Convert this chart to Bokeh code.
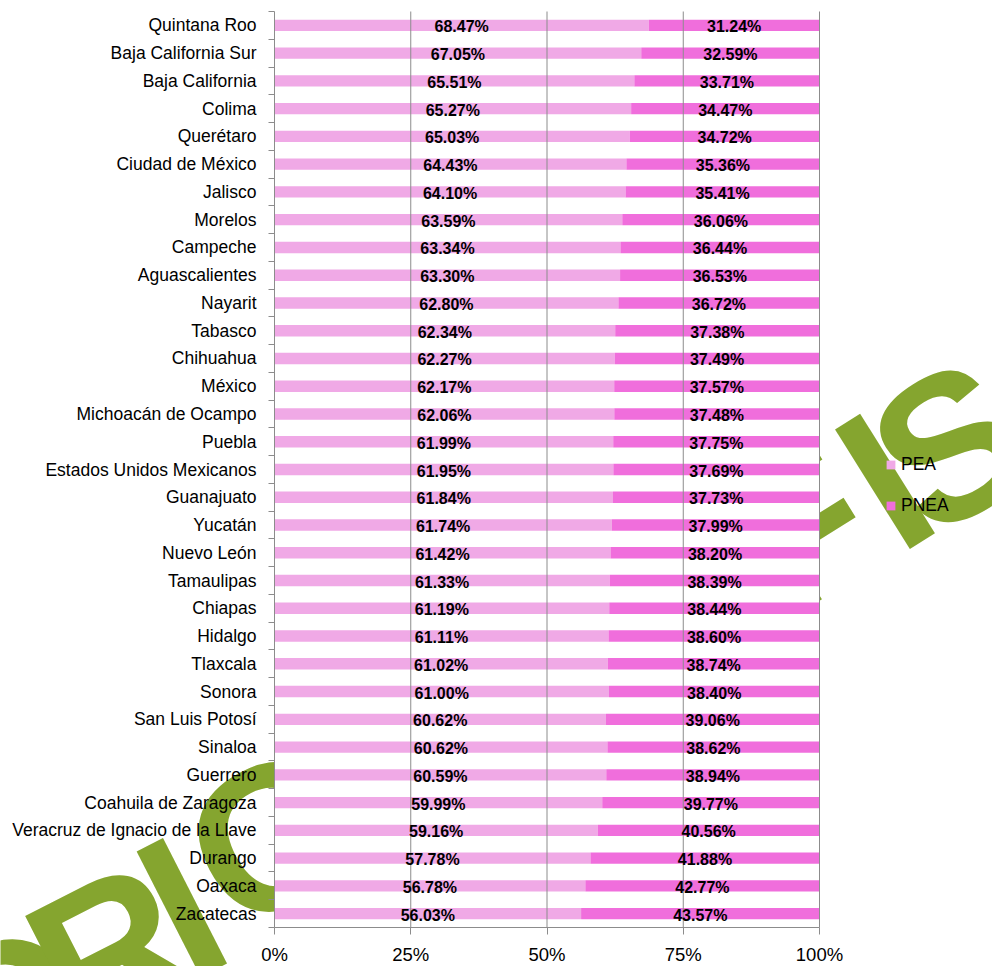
import math
from bokeh.plotting import figure
from bokeh.models import (Range1d, FixedTicker, ColumnDataSource, Legend, LegendItem)
from bokeh.core.properties import value
from bokeh.embed import file_html
from bokeh.resources import INLINE

# ---------------- data ----------------
states = ["Quintana Roo", "Baja California Sur", "Baja California", "Colima", "Querétaro",
          "Ciudad de México", "Jalisco", "Morelos", "Campeche", "Aguascalientes", "Nayarit",
          "Tabasco", "Chihuahua", "México", "Michoacán de Ocampo", "Puebla",
          "Estados Unidos Mexicanos", "Guanajuato", "Yucatán", "Nuevo León", "Tamaulipas",
          "Chiapas", "Hidalgo", "Tlaxcala", "Sonora", "San Luis Potosí", "Sinaloa", "Guerrero",
          "Coahuila de Zaragoza", "Veracruz de Ignacio de la Llave", "Durango", "Oaxaca",
          "Zacatecas"]
pea = [68.47, 67.05, 65.51, 65.27, 65.03, 64.43, 64.10, 63.59, 63.34, 63.30, 62.80, 62.34,
       62.27, 62.17, 62.06, 61.99, 61.95, 61.84, 61.74, 61.42, 61.33, 61.19, 61.11, 61.02,
       61.00, 60.62, 60.62, 60.59, 59.99, 59.16, 57.78, 56.78, 56.03]
pnea = [31.24, 32.59, 33.71, 34.47, 34.72, 35.36, 35.41, 36.06, 36.44, 36.53, 36.72, 37.38,
        37.49, 37.57, 37.48, 37.75, 37.69, 37.73, 37.99, 38.20, 38.39, 38.44, 38.60, 38.74,
        38.40, 39.06, 38.62, 38.94, 39.77, 40.56, 41.88, 42.77, 43.57]
series_names = ["PEA", "PNEA"]
x_ticks = [0, 25, 50, 75, 100]
x_tick_labels = ["0%", "25%", "50%", "75%", "100%"]

# ---------------- style / layout ----------------
PEA_COLOR = "#F0A9E6"
PNEA_COLOR = "#F06EDC"
GRID = "#8C8C8C"
GREEN = "#85A52F"
FONT = "Liberation Sans"
W, H = 992, 966                      # canvas
PL, PW, PT, PH = 274, 545, 11, 916   # plot area inside the canvas (px)

# watermark letters (decoration): letter, centre x/y in canvas px, rotation (deg)
WATERMARK = [("O", 8, 1012, 27), ("R", 110, 950, 27), ("I", 181, 906, 27),
             ("G", 272, 836, 28), ("F", 800, 528, 32), ("I", 884, 480, 32),
             ("S", 950, 445, 32)]
WM_SIZE = 205

n = len(states)
idx = list(range(n))
# 100% stacked: normalise each row
pea_share = [a / (a + b) * 100 for a, b in zip(pea, pnea)]

x_lo, x_hi = x_ticks[0], x_ticks[-1]
y_top, y_bot = -0.5, n - 0.5
dx = (x_hi - x_lo) / PW        # data units per px
dy = (y_bot - y_top) / PH


def cx(px):
    return x_lo + (px - PL) * dx


def cy(py):
    return y_top + (py - PT) * dy


src = ColumnDataSource(dict(
    y=idx,
    pea_right=pea_share,
    pea_mid=[s / 2 for s in pea_share],
    pnea_mid=[(s + 100) / 2 for s in pea_share],
    pea_lbl=["%.2f%%" % v for v in pea],
    pnea_lbl=["%.2f%%" % v for v in pnea],
))

p = figure(width=W, height=H, min_border=0,
           x_range=Range1d(cx(0), cx(W)), y_range=Range1d(cy(H), cy(0)),
           output_backend="svg", toolbar_location=None)
p.background_fill_color = "white"
p.border_fill_color = "white"
p.outline_line_color = None
p.grid.visible = False

# ---- watermark, then a white plot area over it ----
wm = dict(ch=[w[0] for w in WATERMARK],
          x=[cx(w[1]) for w in WATERMARK],
          y=[cy(w[2]) for w in WATERMARK],
          a=[math.radians(w[3]) for w in WATERMARK])
p.text(x="x", y="y", text="ch", angle="a", source=ColumnDataSource(wm),
       text_align="center", text_baseline="middle", text_font=value(FONT),
       text_font_style="bold", text_font_size="%dpx" % WM_SIZE, text_color=GREEN)
p.quad(left=x_lo, right=x_hi, top=y_top, bottom=y_bot, fill_color="white", line_color=None)

# ---- bars ----
BAR_H = 0.41
r1 = p.hbar(y="y", left=0, right="pea_right", height=BAR_H, source=src,
            fill_color=PEA_COLOR, line_color=None)
r2 = p.hbar(y="y", left="pea_right", right=100, height=BAR_H, source=src,
            fill_color=PNEA_COLOR, line_color=None)

# vertical grid lines over the bars
gt = x_ticks[1:]
p.segment(x0=gt, x1=gt, y0=[y_top] * len(gt), y1=[y_bot] * len(gt),
          line_color=GRID, line_width=1)

lbl_kw = dict(text_font=value(FONT), text_font_style="bold", text_font_size="16px",
              text_align="center", text_baseline="middle", text_color="#000000",
              y_offset=1.5, source=src)
p.text(x="pea_mid", y="y", text="pea_lbl", **lbl_kw)
p.text(x="pnea_mid", y="y", text="pnea_lbl", **lbl_kw)

# ---- x axis (fixed at the bottom of the plot area) ----
xa = p.xaxis[0]
xa.fixed_location = y_bot
xa.bounds = (x_lo, x_hi)
xa.ticker = FixedTicker(ticks=x_ticks)
xa.major_label_overrides = {t: l for t, l in zip(x_ticks, x_tick_labels)}
xa.axis_line_color = GRID
xa.major_tick_line_color = GRID
xa.major_tick_out = 7
xa.major_tick_in = 0
xa.minor_tick_out = 0
xa.minor_tick_in = 0
xa.major_label_standoff = 9
xa.major_label_text_font = FONT
xa.major_label_text_font_size = "18.5px"
xa.major_label_text_color = "#000000"

# ---- y axis (fixed at 0%), labels at row centres, ticks at row boundaries ----
ya = p.yaxis[0]
ya.fixed_location = x_lo
ya.bounds = (y_top, y_bot)
ya.ticker = FixedTicker(ticks=idx, minor_ticks=[i - 0.5 for i in range(n + 1)])
ya.major_label_overrides = {i: s for i, s in zip(idx, states)}
ya.axis_line_color = GRID
ya.major_tick_out = 0
ya.major_tick_in = 0
ya.minor_tick_out = 6
ya.minor_tick_in = 0
ya.minor_tick_line_color = GRID
ya.major_label_standoff = 12
ya.major_label_text_font = FONT
ya.major_label_text_font_size = "17.5px"
ya.major_label_text_color = "#000000"

legend = Legend(items=[LegendItem(label=series_names[0], renderers=[r1]),
                       LegendItem(label=series_names[1], renderers=[r2])],
                location=(885, 450), orientation="vertical",
                glyph_width=11, glyph_height=11, label_standoff=5, spacing=20,
                label_height=20, padding=0, margin=0,
                border_line_alpha=0, background_fill_alpha=0,
                label_text_font=FONT, label_text_font_size="17.5px",
                label_text_color="#000000")
p.add_layout(legend)

open("out.html", "w").write(file_html(p, INLINE))
